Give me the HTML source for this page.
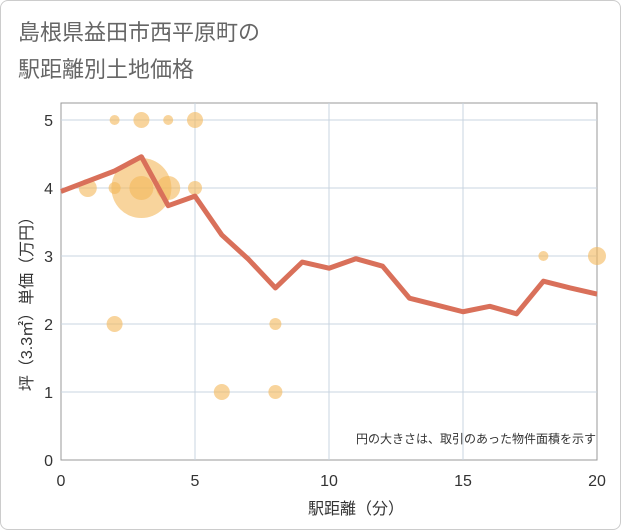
<!DOCTYPE html>
<html><head><meta charset="utf-8"><style>
body{margin:0;background:#fff;font-family:"Liberation Sans","Noto Sans CJK JP",sans-serif}
.frame{position:absolute;left:0;top:0;width:619px;height:528px;border:1px solid #ccc;border-radius:8px}
</style></head><body>
<div class="frame"></div>
<svg width="621" height="530" style="position:absolute;left:0;top:0">
<text x="18" y="40" font-size="22" fill="#666">島根県益田市西平原町の</text>
<text x="18" y="77" font-size="22" fill="#666">駅距離別土地価格</text>
<rect x="61" y="103" width="536" height="357" fill="none" stroke="#999"/>
<g id="grid"></g><g id="bub"></g><g id="ln"></g><g id="ax"></g>
<text x="596" y="443" font-size="12" fill="#333" text-anchor="end">円の大きさは、取引のあった物件面積を示す</text>
<text x="356" y="514" font-size="16" fill="#333" text-anchor="middle">駅距離（分）</text>
<text transform="translate(32,300) rotate(-90)" font-size="16" fill="#333" text-anchor="middle">坪（3.3㎡）単価（万円）</text>
</svg>
<script>
const xTicks=[0,5,10,15,20];
const yTicks=[0,1,2,3,4,5];
const lineX=[0,1,2,3,4,5,6,7,8,9,10,11,12,13,14,15,16,17,18,19,20];
const lineY=[3.95,4.1,4.25,4.46,3.74,3.88,3.31,2.95,2.53,2.91,2.82,2.96,2.85,2.38,2.28,2.18,2.26,2.15,2.63,2.53,2.44];
const bubX=[3,1,2,2,2,3,3,4,4,5,5,6,8,8,18,20];
const bubY=[4,4,5,4,2,5,4,5,4,5,4,1,2,1,3,3];
const bubR=[30,9,5,6,8,8,12,5,12,8,7,8,6,7,5,9];
const NS="http://www.w3.org/2000/svg";
const sx=v=>61+v*26.8, sy=v=>460-v*68;
function mk(p,t,a){const e=document.createElementNS(NS,t);for(const k in a)e.setAttribute(k,a[k]);document.getElementById(p).appendChild(e);return e;}
xTicks.forEach(v=>{
 if(v>0&&v<20){const l=mk('grid','line',{x1:sx(v),x2:sx(v),y1:103,y2:460,stroke:'#c8d4e0'});
 
 }
 const t=mk('ax','text',{x:sx(v),y:486,'font-size':16,fill:'#333','text-anchor':'middle'});t.textContent=v;
 
 
});
yTicks.forEach(v=>{
 if(v>0){const l=mk('grid','line',{x1:61,x2:597,y1:sy(v),y2:sy(v),stroke:'#c8d4e0'});
 
 }
 const t=mk('ax','text',{x:53,y:sy(v)+6,'font-size':16,fill:'#333','text-anchor':'end'});t.textContent=v;
 
 
});
bubX.forEach((x,i)=>{const c=mk('bub','circle',{cx:sx(x),cy:sy(bubY[i]),r:bubR[i],fill:'#f3b85a','fill-opacity':0.6});
 
 });
const p=mk('ln','polyline',{points:lineX.map((x,i)=>sx(x)+','+sy(lineY[i])).join(' '),fill:'none',stroke:'#d9705a','stroke-width':5,'stroke-linejoin':'round'});


</script>
</body></html>
